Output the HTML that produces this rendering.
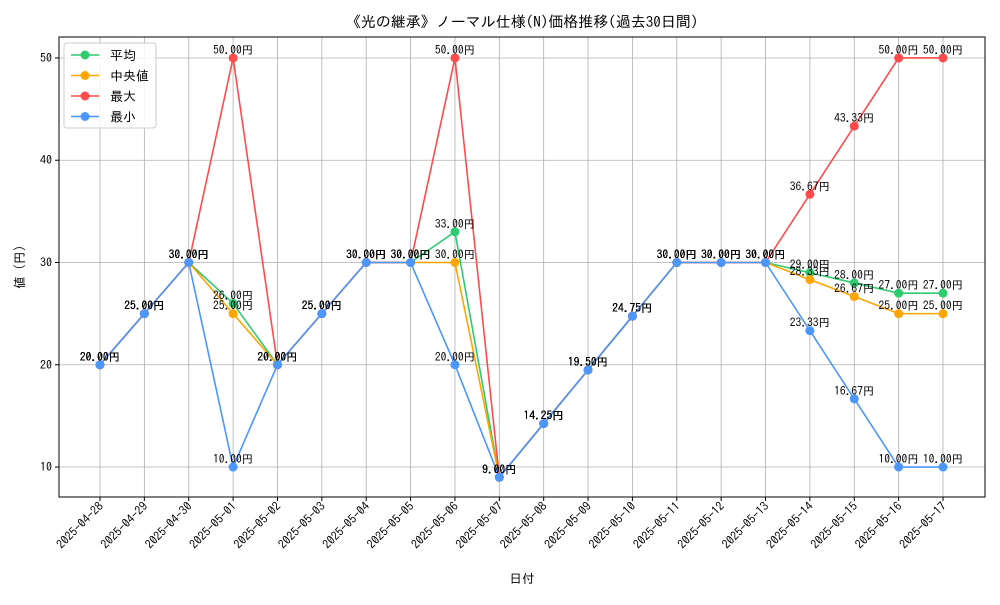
<!DOCTYPE html>
<html><head><meta charset="utf-8"><style>
body{margin:0;background:#fff;}
svg text{font-family:"IPAGothic","Liberation Sans","Noto Sans CJK JP",sans-serif;}
</style></head><body>
<svg id="chart" width="1000" height="600"></svg>
<script>
const dates=["2025-04-28","2025-04-29","2025-04-30","2025-05-01","2025-05-02","2025-05-03","2025-05-04","2025-05-05","2025-05-06","2025-05-07","2025-05-08","2025-05-09","2025-05-10","2025-05-11","2025-05-12","2025-05-13","2025-05-14","2025-05-15","2025-05-16","2025-05-17"];
const avgVals=[20,25,30,26,20,25,30,30,33,9,14.25,19.5,24.75,30,30,30,29,28,27,27];
const medVals=[20,25,30,25,20,25,30,30,30,9,14.25,19.5,24.75,30,30,30,28.33,26.67,25,25];
const maxVals=[20,25,30,50,20,25,30,30,50,9,14.25,19.5,24.75,30,30,30,36.67,43.33,50,50];
const minVals=[20,25,30,10,20,25,30,30,20,9,14.25,19.5,24.75,30,30,30,23.33,16.67,10,10];
const yTicks=[10,20,30,40,50];
const seriesNames=["平均","中央値","最大","最小"];

const NS="http://www.w3.org/2000/svg";
const svg=document.getElementById('chart');
const L=59,R=985,T=37,B=497;
const yMin=7.07,yMax=52.05;
const x0=100,x1=943;
function xs(i){return x0+(x1-x0)*i/(dates.length-1);}
function ys(v){return B-(v-yMin)/(yMax-yMin)*(B-T);}
function el(tag,attrs,parent){const e=document.createElementNS(NS,tag);for(const k in attrs)e.setAttribute(k,attrs[k]);(parent||svg).appendChild(e);return e;}

// grid
yTicks.forEach(v=>{
  const g=el('line',{x1:L,x2:R,y1:ys(v),y2:ys(v),stroke:'#b0b0b0','stroke-width':0.8});
  
  
  el('line',{x1:L-4,x2:L,y1:ys(v),y2:ys(v),stroke:'#000'});
  const t=el('text',{x:L-7,y:ys(v)+4,'text-anchor':'end','font-size':12});
  t.textContent=v;
  
  
});
dates.forEach((d,i)=>{
  const g=el('line',{x1:xs(i),x2:xs(i),y1:T,y2:B,stroke:'#b0b0b0','stroke-width':0.8});
  
  
  el('line',{x1:xs(i),x2:xs(i),y1:B,y2:B+4,stroke:'#000'});
  const t=el('text',{x:xs(i)+4,y:B+10,'text-anchor':'end','font-size':12,transform:`rotate(-45 ${xs(i)+4} ${B+10})`});
  t.textContent=d;
  
  
});
const frame=el('rect',{x:L,y:T,width:R-L,height:B-T,fill:'none',stroke:'#000','stroke-width':1});



const series=[[avgVals,'#2ecc71'],[medVals,'#ffa500'],[maxVals,'#ff4b4b'],[minVals,'#4b96ff']];
series.forEach(([vals,c],si)=>{
  const p=el('polyline',{points:vals.map((v,i)=>xs(i)+','+ys(v)).join(' '),fill:'none',stroke:c,'stroke-width':1.6});
  
  
  vals.forEach((v,i)=>{
    const m=el('circle',{cx:xs(i),cy:ys(v),r:4.5,fill:c});
    
    
  });
});
series.forEach(([vals,c])=>{
  vals.forEach((v,i)=>{
    const t=el('text',{x:xs(i),y:ys(v)-4,'text-anchor':'middle','font-size':11.5});
    t.textContent=v.toFixed(2)+'円';
    
    
  });
});

// legend
const lg=el('g',{});


el('rect',{x:64,y:43,width:92,height:85,rx:3,fill:'#fff','fill-opacity':0.85,stroke:'#ccc'},lg);
seriesNames.forEach((n,i)=>{
  const y=55+i*20.5;
  el('line',{x1:71,x2:99,y1:y,y2:y,stroke:series[i][1],'stroke-width':1.6},lg);
  el('circle',{cx:85,cy:y,r:4.5,fill:series[i][1]},lg);
  const t=el('text',{x:110,y:y+5,'font-size':13},lg);
  t.textContent=n;
  
  
});

const title=el('text',{x:522,y:27,'text-anchor':'middle','font-size':15});
title.textContent='《光の継承》ノーマル仕様(N)価格推移(過去30日間)';


const xl=el('text',{x:522,y:583,'text-anchor':'middle','font-size':12.5});
xl.textContent='日付';


const yl=el('text',{x:24,y:267,'text-anchor':'middle','font-size':12.5,transform:'rotate(-90 24 267)'});
yl.textContent='値 (円)';


</script>
</body></html>
